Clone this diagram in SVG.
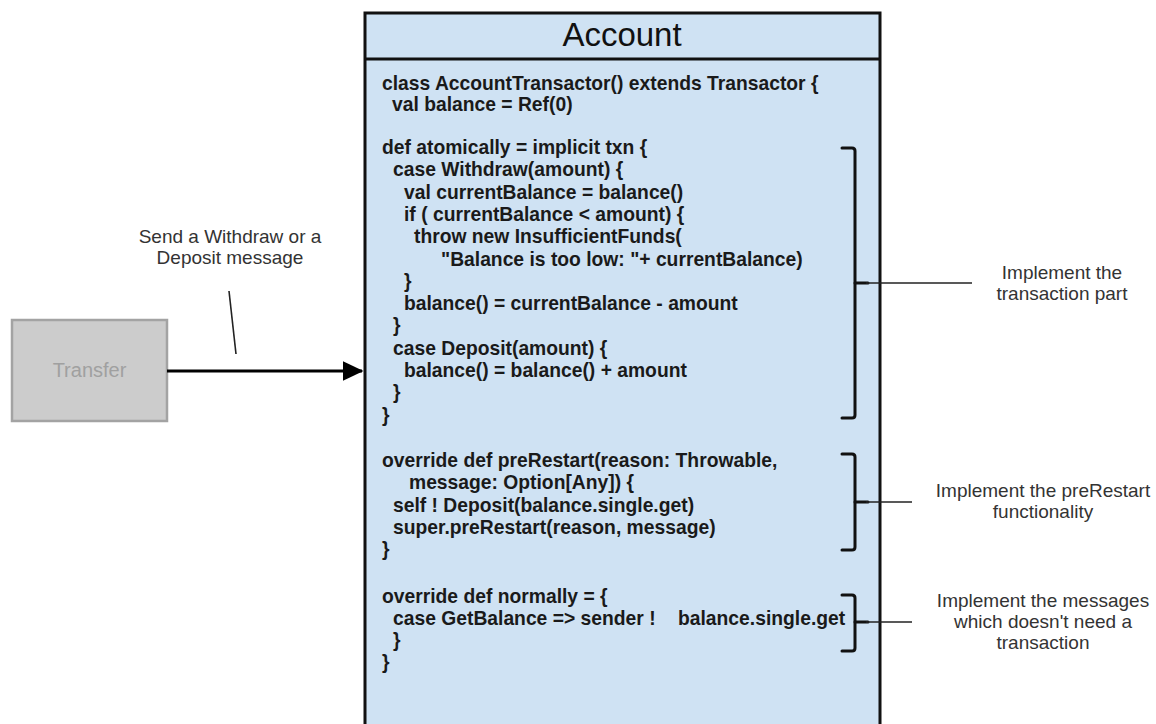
<svg xmlns="http://www.w3.org/2000/svg" width="1156" height="724" viewBox="0 0 1156 724">
  <style>
    .code { font-family: "Liberation Sans", Arial, sans-serif; font-size: 19.3px; font-weight: bold; fill: #1a1a1a; }
    .note { font-family: "Liberation Sans", Arial, sans-serif; font-size: 19px; fill: #333333; text-anchor: middle; }
    .bracket { fill: none; stroke: #111111; stroke-width: 3; stroke-linejoin: round; stroke-linecap: round; }
    .lead { fill: none; stroke: #222222; stroke-width: 1.6; }
  </style>
  <defs>
    <marker id="arrowHead" markerWidth="7" markerHeight="6.6" refX="6.5" refY="3.3" orient="auto" markerUnits="strokeWidth">
      <path d="M0,0 L7,3.3 L0,6.6 Z" fill="#000000"/>
    </marker>
  </defs>
  <rect width="1156" height="724" fill="#ffffff"/>

  <!-- Sender node -->
  <g id="transfer">
    <rect x="12" y="320" width="155" height="101" fill="#cccccc" stroke="#a3a3a3" stroke-width="2.5"/>
    <text x="89.5" y="377" font-family="Liberation Sans, Arial, sans-serif" font-size="20" fill="#a0a0a0" text-anchor="middle">Transfer</text>
  </g>

  <!-- Actor node with its code listing -->
  <g id="account">
    <rect x="365" y="13" width="515" height="730" fill="#cfe2f3" stroke="#111111" stroke-width="3"/>
    <line x1="365" y1="59" x2="880" y2="59" stroke="#111111" stroke-width="3"/>
    <text x="622" y="46" font-family="Liberation Sans, Arial, sans-serif" font-size="33" fill="#111111" text-anchor="middle">Account</text>

    <text class="code" x="382" y="89.5">class AccountTransactor() extends Transactor {</text>
    <text class="code" x="392" y="110.5">val balance = Ref(0)</text>

    <text class="code" x="382" y="154">def atomically = implicit txn {</text>
    <text class="code" x="393" y="176.3">case Withdraw(amount) {</text>
    <text class="code" x="404" y="198.6">val currentBalance = balance()</text>
    <text class="code" x="404" y="220.9">if ( currentBalance &lt; amount) {</text>
    <text class="code" x="414" y="243.2">throw new InsufficientFunds(</text>
    <text class="code" x="441" y="265.5">"Balance is too low: "+ currentBalance)</text>
    <text class="code" x="404" y="287.8">}</text>
    <text class="code" x="404" y="310.1">balance() = currentBalance - amount</text>
    <text class="code" x="393" y="332.4">}</text>
    <text class="code" x="393" y="354.7">case Deposit(amount) {</text>
    <text class="code" x="404" y="377">balance() = balance() + amount</text>
    <text class="code" x="393" y="399.3">}</text>
    <text class="code" x="382" y="421.6">}</text>

    <text class="code" x="382" y="467">override def preRestart(reason: Throwable,</text>
    <text class="code" x="409" y="489.3">message: Option[Any]) {</text>
    <text class="code" x="393" y="511.6">self ! Deposit(balance.single.get)</text>
    <text class="code" x="393" y="533.9">super.preRestart(reason, message)</text>
    <text class="code" x="382" y="556.2">}</text>

    <text class="code" x="382" y="603">override def normally = {</text>
    <text class="code" x="393" y="624.8">case GetBalance =&gt; sender !<tspan x="678">balance.single.get</tspan></text>
    <text class="code" x="393" y="646.6">}</text>
    <text class="code" x="382" y="668.9">}</text>
  </g>

  <!-- Side notes -->
  <g id="note-send">
    <text class="note" x="230" y="243">Send a Withdraw or a</text>
    <text class="note" x="230" y="264">Deposit message</text>
  </g>
  <g id="note-transaction">
    <text class="note" x="1062" y="279">Implement the</text>
    <text class="note" x="1062" y="300">transaction part</text>
  </g>
  <g id="note-prerestart">
    <text class="note" x="1043" y="497">Implement the preRestart</text>
    <text class="note" x="1043" y="518">functionality</text>
  </g>
  <g id="note-normally">
    <text class="note" x="1043" y="607">Implement the messages</text>
    <text class="note" x="1043" y="628">which doesn't need a</text>
    <text class="note" x="1043" y="649">transaction</text>
  </g>

  <!-- Connectors: message arrow, note leaders and code brackets -->
  <g id="connectors">
    <line x1="167" y1="371" x2="362" y2="371" stroke="#000000" stroke-width="3" marker-end="url(#arrowHead)"/>
    <line class="lead" x1="229" y1="291" x2="236" y2="354"/>

    <path class="bracket" d="M842,148 H852 Q855,148 855,151 V415 Q855,418 852,418 H842"/>
    <path class="bracket" d="M855,283 H868"/>
    <line class="lead" x1="866" y1="283" x2="972" y2="283"/>

    <path class="bracket" d="M842,454 H852 Q855,454 855,457 V547 Q855,550 852,550 H842"/>
    <path class="bracket" d="M855,502 H868"/>
    <line class="lead" x1="866" y1="502" x2="912" y2="502"/>

    <path class="bracket" d="M842,595 H852 Q855,595 855,598 V648 Q855,651 852,651 H842"/>
    <path class="bracket" d="M855,622 H868"/>
    <line class="lead" x1="866" y1="622" x2="912" y2="622"/>
  </g>
</svg>
